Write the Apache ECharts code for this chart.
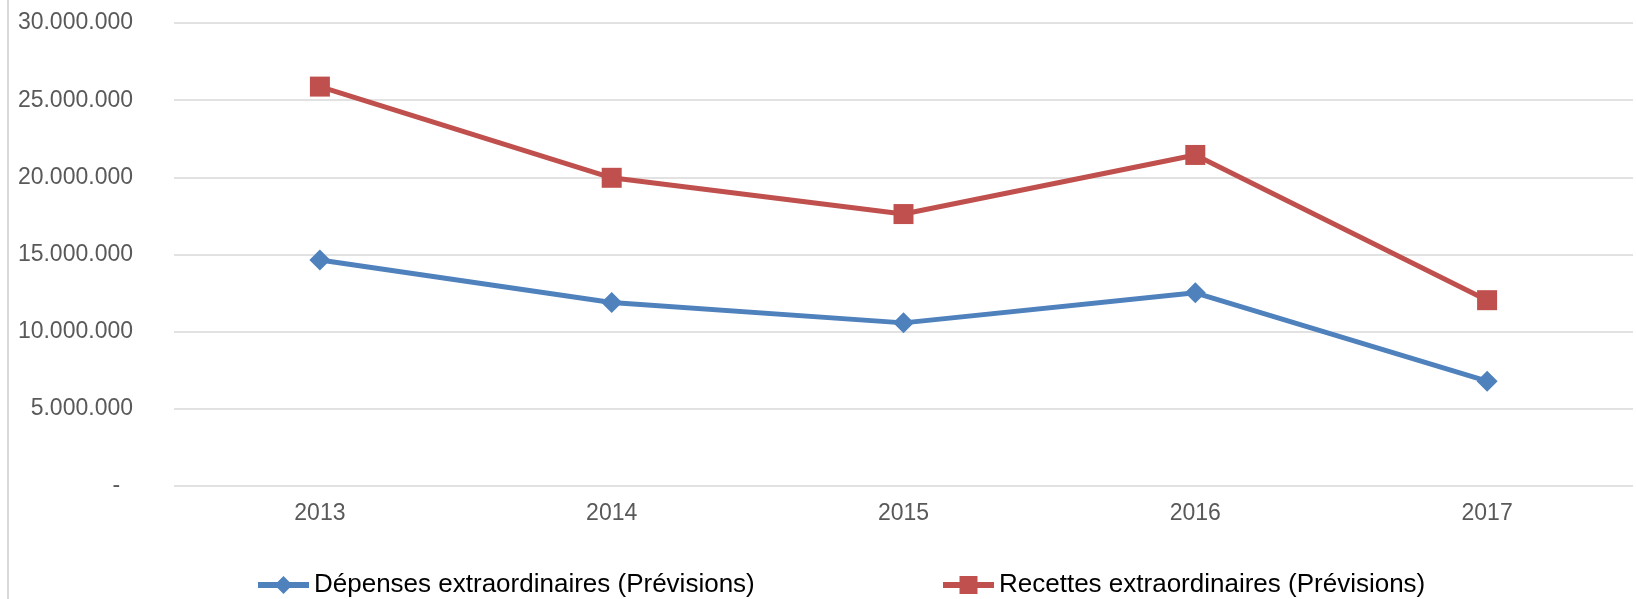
<!DOCTYPE html>
<html>
<head>
<meta charset="utf-8">
<script src="https://cdn.jsdelivr.net/npm/echarts@6/dist/echarts.min.js"></script>
<style>
  html, body { margin: 0; padding: 0; background: #fff; }
  #chart {
    margin-left: 7px;
    width: 1627px;
    height: 599px;
    border-left: 2px solid #d9d9d9;
  }
</style>
</head>
<body>
<div id="chart"></div>
<script>
// catégories (années)
const years = ['2013', '2014', '2015', '2016', '2017']
// valeurs
const depenses = [14640000, 11890000, 10570000, 12520000, 6790000]
const recettes = [25880000, 19970000, 17620000, 21450000, 12040000]
// libellés de l'axe Y (format comptable : le zéro s'affiche "-")
const yTickLabels = ['-  ', '5.000.000', '10.000.000', '15.000.000', '20.000.000', '25.000.000', '30.000.000']

const nomDep = 'Dépenses extraordinaires (Prévisions)'
const nomRec = 'Recettes extraordinaires (Prévisions)'

const chart = echarts.init(document.getElementById('chart'))

// style commun des légendes
const legendBase = {
  top: 572,
  padding: 0,
  itemWidth: 51,
  itemHeight: 22.5,
  lineStyle: { width: 6 },
  textStyle: {
    color: '#000',
    fontSize: 26,
    fontFamily: 'Liberation Sans, Arial, sans-serif'
  }
}

const option = {
  animation: false,
  textStyle: { fontFamily: 'Liberation Sans, Arial, sans-serif' },
  grid: {
    left: 165,
    right: 3,
    top: 23,
    bottom: 113
  },
  legend: [
    Object.assign({ left: 246, data: [nomDep] }, legendBase),
    Object.assign({ left: 931, data: [nomRec] }, legendBase)
  ],
  xAxis: {
    type: 'category',
    data: years,
    boundaryGap: true,
    axisLine: { show: false },
    axisTick: { show: false },
    axisLabel: { color: '#595959', fontSize: 23, margin: 16 }
  },
  yAxis: {
    type: 'value',
    min: 0,
    max: 30000000,
    interval: 5000000,
    axisLine: { show: false },
    axisTick: { show: false },
    axisLabel: {
      color: '#595959',
      fontSize: 23,
      margin: 41,
      formatter: (v) => yTickLabels[Math.round(v / 5000000)]
    },
    splitLine: { lineStyle: { color: '#d9d9d9', width: 1.5 } }
  },
  series: [
    {
      name: nomDep,
      type: 'line',
      data: depenses,
      symbol: 'diamond',
      symbolSize: 21,
      color: '#4F81BD',
      lineStyle: { width: 5, color: '#4F81BD' },
      itemStyle: { color: '#4F81BD' }
    },
    {
      name: nomRec,
      type: 'line',
      data: recettes,
      symbol: 'rect',
      symbolSize: 20,
      color: '#C0504D',
      lineStyle: { width: 5, color: '#C0504D' },
      itemStyle: { color: '#C0504D' }
    }
  ]
}

chart.setOption(option)
</script>
</body>
</html>
